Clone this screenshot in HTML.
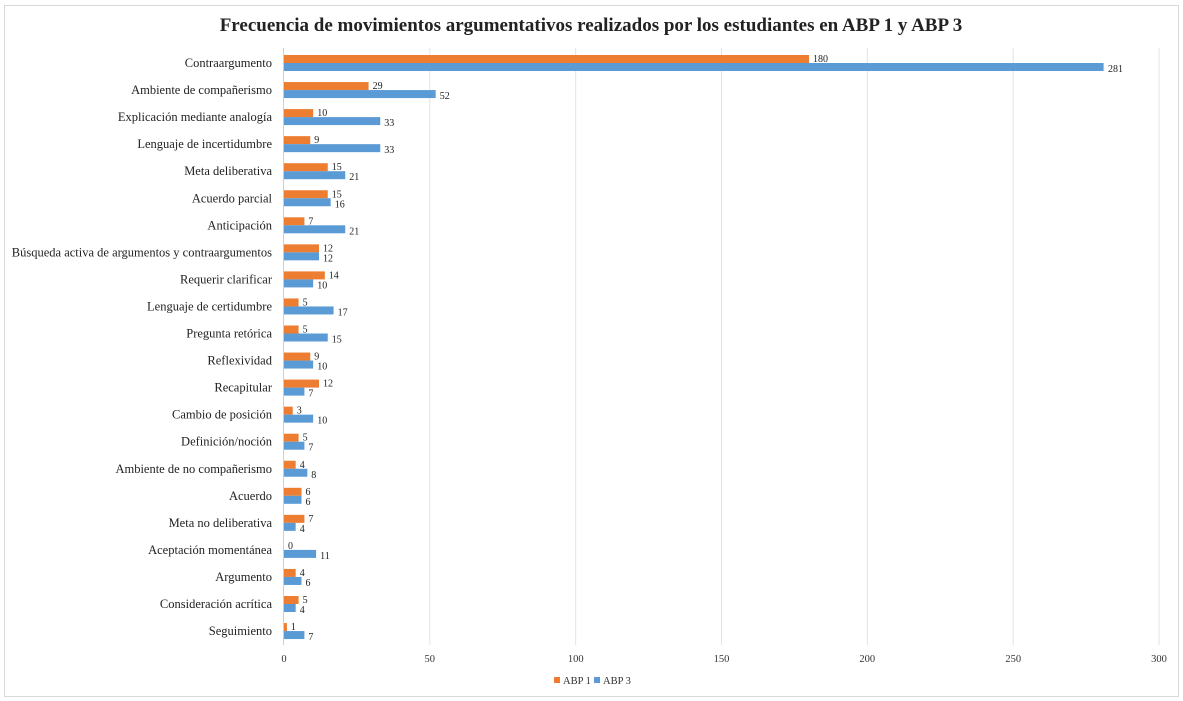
<!DOCTYPE html>
<html><head><meta charset="utf-8"><style>body{margin:0;background:#fff}svg{display:block}g>text[text-anchor="end"]{font-size:12.5px}</style></head>
<body>
<svg width="1183" height="701" xmlns="http://www.w3.org/2000/svg" font-family="'Liberation Serif',serif">
<rect x="4.5" y="5.5" width="1174" height="691" fill="#fff" stroke="#d9d9d9"/>
<text x="591" y="31" text-anchor="middle" font-size="19" font-weight="bold" fill="#222">Frecuencia de movimientos argumentativos realizados por los estudiantes en ABP 1 y ABP 3</text>
<g stroke="#e3e3e3" stroke-width="1">
<line x1="429.8" y1="48" x2="429.8" y2="645"/><line x1="575.7" y1="48" x2="575.7" y2="645"/><line x1="721.5" y1="48" x2="721.5" y2="645"/><line x1="867.3" y1="48" x2="867.3" y2="645"/><line x1="1013.2" y1="48" x2="1013.2" y2="645"/><line x1="1159" y1="48" x2="1159" y2="645"/>
</g>
<line x1="283.5" y1="48" x2="283.5" y2="645" stroke="#cfcfcf"/>
<g font-size="10.5" fill="#333" text-anchor="middle">
<text x="284" y="662">0</text><text x="429.8" y="662">50</text><text x="575.7" y="662">100</text><text x="721.5" y="662">150</text><text x="867.3" y="662">200</text><text x="1013.2" y="662">250</text><text x="1159" y="662">300</text>
</g>
<rect x="554" y="677" width="6" height="6" fill="#ED7D31"/><text x="563" y="684" font-size="10.5" fill="#333">ABP 1</text>
<rect x="594" y="677" width="6" height="6" fill="#5B9BD5"/><text x="603" y="684" font-size="10.5" fill="#333">ABP 3</text>

<g transform="translate(0,63)"><text x="272" y="4" text-anchor="end" font-size="12" fill="#222">Contraargumento</text><rect x="284" y="-8" width="525" height="8" fill="#ED7D31"/><rect x="284" y="0" width="819.6" height="8" fill="#5B9BD5"/><text x="813" y="-1" font-size="10" fill="#222">180</text><text x="1108" y="9" font-size="10" fill="#222">281</text></g>
<g transform="translate(0,90.05)"><text x="272" y="4" text-anchor="end" font-size="12" fill="#222">Ambiente de compañerismo</text><rect x="284" y="-8" width="84.58" height="8" fill="#ED7D31"/><rect x="284" y="0" width="151.67" height="8" fill="#5B9BD5"/><text x="372.6" y="-1" font-size="10" fill="#222">29</text><text x="439.7" y="9" font-size="10" fill="#222">52</text></g>
<g transform="translate(0,117.1)"><text x="272" y="4" text-anchor="end" font-size="12" fill="#222">Explicación mediante analogía</text><rect x="284" y="-8" width="29.17" height="8" fill="#ED7D31"/><rect x="284" y="0" width="96.25" height="8" fill="#5B9BD5"/><text x="317.2" y="-1" font-size="10" fill="#222">10</text><text x="384.3" y="9" font-size="10" fill="#222">33</text></g>
<g transform="translate(0,144.15)"><text x="272" y="4" text-anchor="end" font-size="12" fill="#222">Lenguaje de incertidumbre</text><rect x="284" y="-8" width="26.25" height="8" fill="#ED7D31"/><rect x="284" y="0" width="96.25" height="8" fill="#5B9BD5"/><text x="314.3" y="-1" font-size="10" fill="#222">9</text><text x="384.3" y="9" font-size="10" fill="#222">33</text></g>
<g transform="translate(0,171.2)"><text x="272" y="4" text-anchor="end" font-size="12" fill="#222">Meta deliberativa</text><rect x="284" y="-8" width="43.75" height="8" fill="#ED7D31"/><rect x="284" y="0" width="61.25" height="8" fill="#5B9BD5"/><text x="331.8" y="-1" font-size="10" fill="#222">15</text><text x="349.3" y="9" font-size="10" fill="#222">21</text></g>
<g transform="translate(0,198.25)"><text x="272" y="4" text-anchor="end" font-size="12" fill="#222">Acuerdo parcial</text><rect x="284" y="-8" width="43.75" height="8" fill="#ED7D31"/><rect x="284" y="0" width="46.67" height="8" fill="#5B9BD5"/><text x="331.8" y="-1" font-size="10" fill="#222">15</text><text x="334.7" y="9" font-size="10" fill="#222">16</text></g>
<g transform="translate(0,225.3)"><text x="272" y="4" text-anchor="end" font-size="12" fill="#222">Anticipación</text><rect x="284" y="-8" width="20.42" height="8" fill="#ED7D31"/><rect x="284" y="0" width="61.25" height="8" fill="#5B9BD5"/><text x="308.4" y="-1" font-size="10" fill="#222">7</text><text x="349.3" y="9" font-size="10" fill="#222">21</text></g>
<g transform="translate(0,252.35)"><text x="272" y="4" text-anchor="end" font-size="12" fill="#222">Búsqueda activa de argumentos y contraargumentos</text><rect x="284" y="-8" width="35" height="8" fill="#ED7D31"/><rect x="284" y="0" width="35" height="8" fill="#5B9BD5"/><text x="323" y="-1" font-size="10" fill="#222">12</text><text x="323" y="9" font-size="10" fill="#222">12</text></g>
<g transform="translate(0,279.4)"><text x="272" y="4" text-anchor="end" font-size="12" fill="#222">Requerir clarificar</text><rect x="284" y="-8" width="40.83" height="8" fill="#ED7D31"/><rect x="284" y="0" width="29.17" height="8" fill="#5B9BD5"/><text x="328.8" y="-1" font-size="10" fill="#222">14</text><text x="317.2" y="9" font-size="10" fill="#222">10</text></g>
<g transform="translate(0,306.45)"><text x="272" y="4" text-anchor="end" font-size="12" fill="#222">Lenguaje de certidumbre</text><rect x="284" y="-8" width="14.58" height="8" fill="#ED7D31"/><rect x="284" y="0" width="49.58" height="8" fill="#5B9BD5"/><text x="302.6" y="-1" font-size="10" fill="#222">5</text><text x="337.6" y="9" font-size="10" fill="#222">17</text></g>
<g transform="translate(0,333.5)"><text x="272" y="4" text-anchor="end" font-size="12" fill="#222">Pregunta retórica</text><rect x="284" y="-8" width="14.58" height="8" fill="#ED7D31"/><rect x="284" y="0" width="43.75" height="8" fill="#5B9BD5"/><text x="302.6" y="-1" font-size="10" fill="#222">5</text><text x="331.8" y="9" font-size="10" fill="#222">15</text></g>
<g transform="translate(0,360.55)"><text x="272" y="4" text-anchor="end" font-size="12" fill="#222">Reflexividad</text><rect x="284" y="-8" width="26.25" height="8" fill="#ED7D31"/><rect x="284" y="0" width="29.17" height="8" fill="#5B9BD5"/><text x="314.3" y="-1" font-size="10" fill="#222">9</text><text x="317.2" y="9" font-size="10" fill="#222">10</text></g>
<g transform="translate(0,387.6)"><text x="272" y="4" text-anchor="end" font-size="12" fill="#222">Recapitular</text><rect x="284" y="-8" width="35" height="8" fill="#ED7D31"/><rect x="284" y="0" width="20.42" height="8" fill="#5B9BD5"/><text x="323" y="-1" font-size="10" fill="#222">12</text><text x="308.4" y="9" font-size="10" fill="#222">7</text></g>
<g transform="translate(0,414.65)"><text x="272" y="4" text-anchor="end" font-size="12" fill="#222">Cambio de posición</text><rect x="284" y="-8" width="8.75" height="8" fill="#ED7D31"/><rect x="284" y="0" width="29.17" height="8" fill="#5B9BD5"/><text x="296.8" y="-1" font-size="10" fill="#222">3</text><text x="317.2" y="9" font-size="10" fill="#222">10</text></g>
<g transform="translate(0,441.7)"><text x="272" y="4" text-anchor="end" font-size="12" fill="#222">Definición/noción</text><rect x="284" y="-8" width="14.58" height="8" fill="#ED7D31"/><rect x="284" y="0" width="20.42" height="8" fill="#5B9BD5"/><text x="302.6" y="-1" font-size="10" fill="#222">5</text><text x="308.4" y="9" font-size="10" fill="#222">7</text></g>
<g transform="translate(0,468.75)"><text x="272" y="4" text-anchor="end" font-size="12" fill="#222">Ambiente de no compañerismo</text><rect x="284" y="-8" width="11.67" height="8" fill="#ED7D31"/><rect x="284" y="0" width="23.33" height="8" fill="#5B9BD5"/><text x="299.7" y="-1" font-size="10" fill="#222">4</text><text x="311.3" y="9" font-size="10" fill="#222">8</text></g>
<g transform="translate(0,495.8)"><text x="272" y="4" text-anchor="end" font-size="12" fill="#222">Acuerdo</text><rect x="284" y="-8" width="17.5" height="8" fill="#ED7D31"/><rect x="284" y="0" width="17.5" height="8" fill="#5B9BD5"/><text x="305.5" y="-1" font-size="10" fill="#222">6</text><text x="305.5" y="9" font-size="10" fill="#222">6</text></g>
<g transform="translate(0,522.85)"><text x="272" y="4" text-anchor="end" font-size="12" fill="#222">Meta no deliberativa</text><rect x="284" y="-8" width="20.42" height="8" fill="#ED7D31"/><rect x="284" y="0" width="11.67" height="8" fill="#5B9BD5"/><text x="308.4" y="-1" font-size="10" fill="#222">7</text><text x="299.7" y="9" font-size="10" fill="#222">4</text></g>
<g transform="translate(0,549.9)"><text x="272" y="4" text-anchor="end" font-size="12" fill="#222">Aceptación momentánea</text><rect x="284" y="0" width="32.08" height="8" fill="#5B9BD5"/><text x="288" y="-1" font-size="10" fill="#222">0</text><text x="320.1" y="9" font-size="10" fill="#222">11</text></g>
<g transform="translate(0,576.95)"><text x="272" y="4" text-anchor="end" font-size="12" fill="#222">Argumento</text><rect x="284" y="-8" width="11.67" height="8" fill="#ED7D31"/><rect x="284" y="0" width="17.5" height="8" fill="#5B9BD5"/><text x="299.7" y="-1" font-size="10" fill="#222">4</text><text x="305.5" y="9" font-size="10" fill="#222">6</text></g>
<g transform="translate(0,604)"><text x="272" y="4" text-anchor="end" font-size="12" fill="#222">Consideración acrítica</text><rect x="284" y="-8" width="14.58" height="8" fill="#ED7D31"/><rect x="284" y="0" width="11.67" height="8" fill="#5B9BD5"/><text x="302.6" y="-1" font-size="10" fill="#222">5</text><text x="299.7" y="9" font-size="10" fill="#222">4</text></g>
<g transform="translate(0,631.05)"><text x="272" y="4" text-anchor="end" font-size="12" fill="#222">Seguimiento</text><rect x="284" y="-8" width="2.92" height="8" fill="#ED7D31"/><rect x="284" y="0" width="20.42" height="8" fill="#5B9BD5"/><text x="290.9" y="-1" font-size="10" fill="#222">1</text><text x="308.4" y="9" font-size="10" fill="#222">7</text></g>
</svg>
</body></html>
